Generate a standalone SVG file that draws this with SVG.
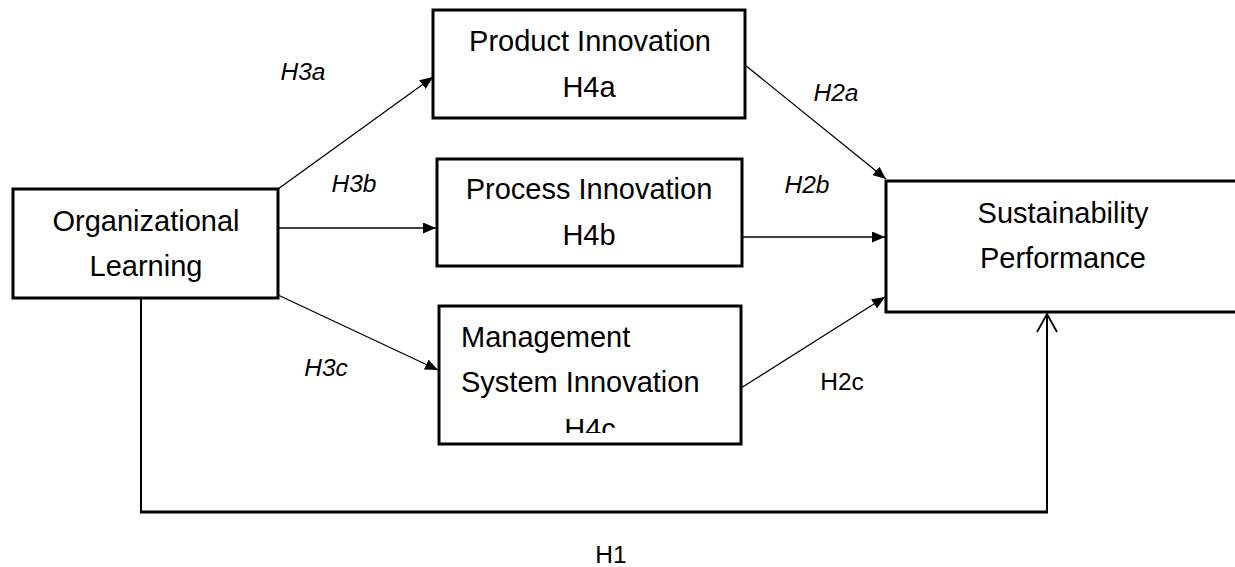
<svg xmlns="http://www.w3.org/2000/svg" width="1235" height="567" viewBox="0 0 1235 567">
<style>
.box{fill:#fff;stroke:#000;stroke-width:3}
.t{font-family:"Liberation Sans",Arial,sans-serif;font-size:29px;fill:#000}
.lbl{font-family:"Liberation Sans",Arial,sans-serif;font-size:24.5px;fill:#000}
.it{font-style:italic}
.c{text-anchor:middle}
.ln{stroke:#000;stroke-width:1.3;fill:none}
</style>
<defs>
<marker id="ah" viewBox="0 0 13 11" refX="13" refY="5.5" markerWidth="13" markerHeight="11" markerUnits="userSpaceOnUse" orient="auto">
<path d="M0,0 L13,5.5 L0,11 Z" fill="#000"/>
</marker>
<clipPath id="clipH4c"><rect x="440" y="300" width="300" height="133"/></clipPath>
</defs>
<rect width="1235" height="567" fill="#fff"/>
<g id="connectors">
<line class="ln" x1="278" y1="189" x2="433" y2="77" marker-end="url(#ah)"/>
<line class="ln" x1="278" y1="228" x2="436" y2="228" marker-end="url(#ah)"/>
<line class="ln" x1="278" y1="295" x2="438" y2="370" marker-end="url(#ah)"/>
<line class="ln" x1="745" y1="65" x2="886" y2="179" marker-end="url(#ah)"/>
<line class="ln" x1="742" y1="237" x2="885" y2="237" marker-end="url(#ah)"/>
<line class="ln" x1="741" y1="388" x2="885" y2="297" marker-end="url(#ah)"/>
<polyline points="141,298 141,512" fill="none" stroke="#000" stroke-width="2"/>
<line x1="140" y1="512" x2="1048" y2="512" stroke="#000" stroke-width="3"/>
<line x1="1047" y1="513" x2="1047" y2="314" stroke="#000" stroke-width="2"/>
<polyline points="1037,332 1047,314 1057,332" fill="none" stroke="#000" stroke-width="1.8"/>
<text class="lbl it c" x="303" y="80">H3a</text>
<text class="lbl it c" x="354" y="192">H3b</text>
<text class="lbl it c" x="326" y="376">H3c</text>
<text class="lbl it c" x="836" y="101">H2a</text>
<text class="lbl it c" x="807" y="193">H2b</text>
<text class="lbl c" x="842" y="390">H2c</text>
<text class="lbl c" x="611" y="563">H1</text>
</g>
<g id="org">
<rect class="box" x="13" y="189" width="265" height="109"/>
<text class="t c" x="146" y="231">Organizational</text>
<text class="t c" x="146" y="276">Learning</text>
</g>
<g id="product">
<rect class="box" x="433" y="10" width="312" height="108"/>
<text class="t c" x="590" y="51">Product Innovation</text>
<text class="t c" x="589" y="97">H4a</text>
</g>
<g id="process">
<rect class="box" x="437" y="159" width="305" height="107"/>
<text class="t c" x="589" y="199">Process Innovation</text>
<text class="t c" x="589" y="245">H4b</text>
</g>
<g id="management">
<rect class="box" x="439" y="306" width="302" height="138"/>
<text class="t" x="461" y="347">Management</text>
<text class="t" x="461" y="392">System Innovation</text>
<text class="t c" x="590" y="439" clip-path="url(#clipH4c)">H4c</text>
</g>
<g id="sustainability">
<rect class="box" x="886" y="181" width="360" height="131" stroke-width="3.5"/>
<text class="t c" x="1063" y="223">Sustainability</text>
<text class="t c" x="1063" y="268">Performance</text>
</g>
</svg>
